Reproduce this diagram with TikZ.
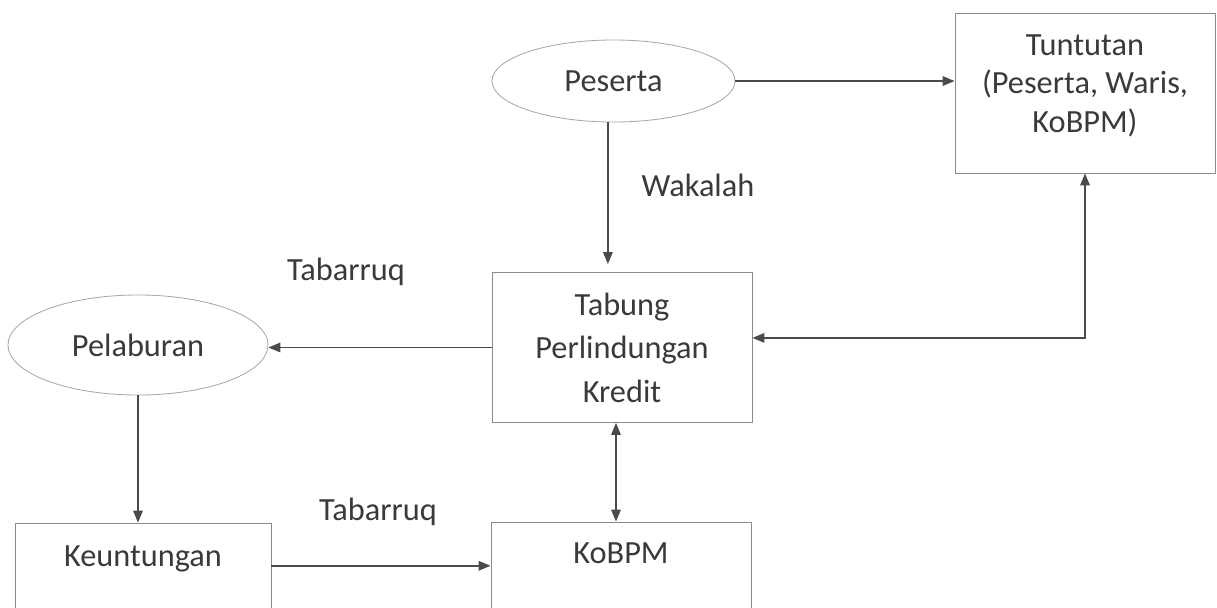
\documentclass[tikz,border=0pt]{standalone}
\usepackage{fontspec}
\setmainfont{Carlito}
\usetikzlibrary{arrows.meta,shapes.geometric}

\definecolor{InkGrey}{HTML}{3A3A3A}
\definecolor{LineGrey}{HTML}{4A4A4A}
\definecolor{BoxGrey}{HTML}{8A8A8A}
\definecolor{OvalGrey}{HTML}{A8A8A8}

\begin{document}
\begin{tikzpicture}[x=0.025cm, y=-0.025cm, >={Triangle[length=0.3cm, width=0.24cm]}]
        \tikzset{TextStyle/.style={text=InkGrey, font=\fontsize{23}{27.5}\selectfont}}
        \tikzset{BoxStyle/.style={draw=BoxGrey, line width=0.6pt, rectangle,
            inner sep=0pt, minimum width=6.5cm, TextStyle}}
        \tikzset{OvalStyle/.style={draw=OvalGrey, line width=0.6pt, ellipse,
            inner sep=0pt, TextStyle}}
        \tikzset{FlowStyle/.style={draw=LineGrey, line width=1pt, ->}}

        \useasboundingbox (0,0) rectangle (1217,607);
        \clip (0,0) rectangle (1217,607);

        \node[OvalStyle, minimum width=6.075cm, minimum height=2.05cm]
          (peserta) at (613.5,81) {Peserta};
        \node[BoxStyle, minimum height=4cm,
          label={[TextStyle, align=center, anchor=north, yshift=-0.42cm]north:Tuntutan\\(Peserta, Waris,\\KoBPM)}]
          (tuntutan) at (1085,93) {};
        \node[BoxStyle, minimum height=3.75cm, align=center,
          font=\fontsize{23}{31}\selectfont]
          (tabung) at (622,347.5) {Tabung\\Perlindungan\\Kredit};
        \node[OvalStyle, minimum width=6.5cm, minimum height=2.5cm]
          (pelaburan) at (138,345) {Pelaburan};
        \node[BoxStyle, minimum width=6.4cm, minimum height=3cm,
          label={[TextStyle, anchor=north, yshift=-0.45cm]north:Keuntungan}]
          (keuntungan) at (143,583) {};
        \node[BoxStyle, minimum height=3cm,
          label={[TextStyle, anchor=north, yshift=-0.4cm]north:KoBPM}]
          (kobpm) at (621,582) {};

        \node[TextStyle] (wakalah) at (698,185) {Wakalah};
        \node[TextStyle] (tabarruqA) at (346,272) {Tabarruq};
        \node[TextStyle] (tabarruqB) at (378,512) {Tabarruq};

        \draw[FlowStyle] (peserta.east) -- (peserta.east -| tuntutan.west);
        \draw[FlowStyle, shorten >=0.2cm]
          ([xshift=-0.14cm]peserta.south) -- ([xshift=-0.14cm]peserta.south |- tabung.north);
        \draw[FlowStyle] (tabung.west) -- (tabung.west -| pelaburan.east);
        \draw[FlowStyle, <->]
          (tuntutan.south) |- ([yshift=0.24cm]tabung.east);
        \draw[FlowStyle, <->]
          ([xshift=-0.15cm]tabung.south) -- ([xshift=-0.15cm]tabung.south |- kobpm.north);
        \draw[FlowStyle] (pelaburan.south) -- (pelaburan.south |- keuntungan.north);
        \draw[FlowStyle]
          ([yshift=0.43cm]keuntungan.east) -- ([yshift=0.43cm]keuntungan.east -| kobpm.west);
      \end{tikzpicture}
\end{document}
